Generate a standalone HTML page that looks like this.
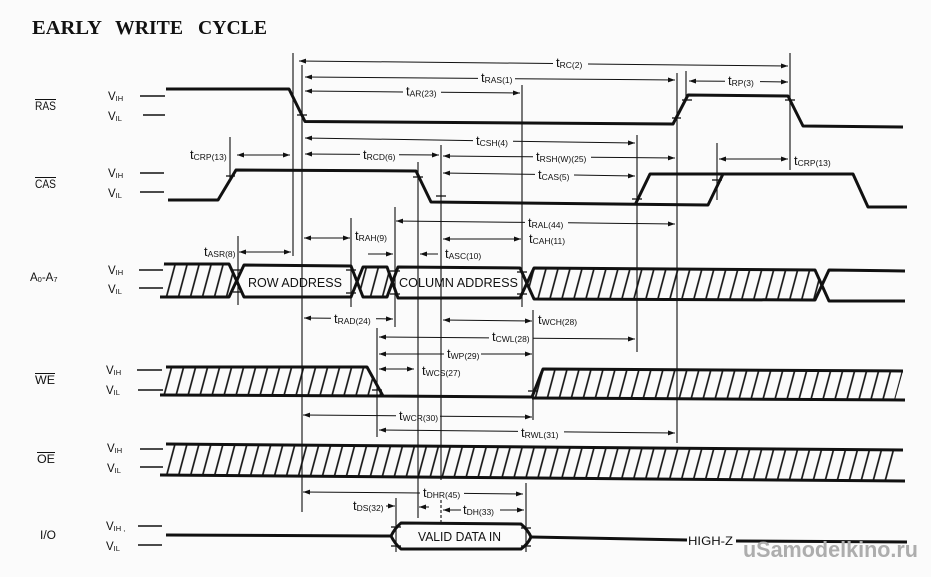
<!DOCTYPE html>
<html>
<head>
<meta charset="utf-8">
<style>
html,body{margin:0;padding:0;background:#fbfbfb;}
svg{display:block;}
text{font-family:"Liberation Sans",Arial,sans-serif;fill:#111;}
</style>
</head>
<body>
<svg width="931" height="577" viewBox="0 0 931 577" xmlns="http://www.w3.org/2000/svg">
<defs>
<pattern id="h" width="12" height="12" patternUnits="userSpaceOnUse" patternTransform="skewX(-15)">
<line x1="6" y1="-1" x2="6" y2="13" stroke="#111" stroke-width="1.7"/>
</pattern>
<marker id="a" viewBox="0 0 10 10" refX="10" refY="5" markerWidth="7" markerHeight="5" markerUnits="userSpaceOnUse" preserveAspectRatio="none" orient="auto-start-reverse">
<path d="M0,0 L10,5 L0,10 z" fill="#111"/>
</marker>
</defs>
<rect width="931" height="577" fill="#fbfbfb"/>

<!-- Title -->
<text x="32" y="34" style="font-family:'Liberation Serif',serif;font-weight:bold" font-size="20" textLength="70" lengthAdjust="spacingAndGlyphs">EARLY</text>
<text x="115" y="34" style="font-family:'Liberation Serif',serif;font-weight:bold" font-size="20" textLength="68" lengthAdjust="spacingAndGlyphs">WRITE</text>
<text x="198" y="34" style="font-family:'Liberation Serif',serif;font-weight:bold" font-size="20" textLength="69" lengthAdjust="spacingAndGlyphs">CYCLE</text>

<!-- Left signal names -->
<g font-size="11.5">
<text x="35" y="110" textLength="21" lengthAdjust="spacingAndGlyphs">RAS</text>
<text x="35" y="188" textLength="21" lengthAdjust="spacingAndGlyphs">CAS</text>
<text x="30" y="281">A<tspan font-size="7.5" dy="1">0</tspan><tspan dy="-1">-A</tspan><tspan font-size="7.5" dy="1">7</tspan></text>
<text x="35" y="384" textLength="20" lengthAdjust="spacingAndGlyphs">WE</text>
<text x="37" y="463" textLength="18" lengthAdjust="spacingAndGlyphs">OE</text>
<text x="40" y="539" textLength="16" lengthAdjust="spacingAndGlyphs">I/O</text>
</g>
<g stroke="#111" stroke-width="1">
<line x1="35" y1="99.5" x2="56" y2="99.5"/>
<line x1="35" y1="177.5" x2="56" y2="177.5"/>
<line x1="35" y1="373.5" x2="55" y2="373.5"/>
<line x1="37" y1="452.5" x2="55" y2="452.5"/>
</g>

<!-- VIH / VIL -->
<g font-size="11.5">
<text x="108" y="100">V<tspan font-size="7.5" dy="1">IH</tspan></text>
<text x="108" y="120">V<tspan font-size="7.5" dy="1">IL</tspan></text>
<text x="108" y="177">V<tspan font-size="7.5" dy="1">IH</tspan></text>
<text x="108" y="197">V<tspan font-size="7.5" dy="1">IL</tspan></text>
<text x="108" y="274">V<tspan font-size="7.5" dy="1">IH</tspan></text>
<text x="108" y="293">V<tspan font-size="7.5" dy="1">IL</tspan></text>
<text x="106" y="374">V<tspan font-size="7.5" dy="1">IH</tspan></text>
<text x="106" y="394">V<tspan font-size="7.5" dy="1">IL</tspan></text>
<text x="107" y="452">V<tspan font-size="7.5" dy="1">IH</tspan></text>
<text x="107" y="472">V<tspan font-size="7.5" dy="1">IL</tspan></text>
<text x="106" y="530">V<tspan font-size="7.5" dy="1">IH ,</tspan></text>
<text x="106" y="550">V<tspan font-size="7.5" dy="1">IL</tspan></text>
</g>
<g stroke="#111" stroke-width="1.5">
<line x1="140" y1="96" x2="165" y2="96"/>
<line x1="143" y1="115" x2="165" y2="115"/>
<line x1="140" y1="173" x2="164" y2="173"/>
<line x1="140" y1="192" x2="164" y2="192"/>
<line x1="139" y1="270" x2="163" y2="270"/>
<line x1="139" y1="288" x2="163" y2="288"/>
<line x1="137" y1="370" x2="162" y2="370"/>
<line x1="138" y1="390" x2="163" y2="390"/>
<line x1="140" y1="449" x2="163" y2="449"/>
<line x1="140" y1="467" x2="163" y2="467"/>
<line x1="138" y1="526" x2="162" y2="526"/>
<line x1="138" y1="545" x2="162" y2="545"/>
</g>

<!-- Vertical reference lines -->
<g stroke="#222" stroke-width="1.2">
<line x1="230" y1="137" x2="230" y2="178"/>
<line x1="238" y1="236" x2="238" y2="305"/>
<line x1="293" y1="53" x2="293" y2="256"/>
<line x1="302" y1="65" x2="302" y2="512"/>
<line x1="351" y1="218" x2="351" y2="307"/>
<line x1="395" y1="207" x2="395" y2="327"/>
<line x1="377" y1="328" x2="377" y2="437"/>
<line x1="418" y1="162" x2="418" y2="518"/>
<line x1="441" y1="145" x2="441" y2="480"/>
<line x1="441" y1="500" x2="441" y2="522" stroke-dasharray="3,2"/>
<line x1="396" y1="498" x2="396" y2="552"/>
<line x1="522" y1="85" x2="522" y2="307"/>
<line x1="526" y1="483" x2="526" y2="552"/>
<line x1="533" y1="310" x2="533" y2="420"/>
<line x1="637" y1="135" x2="637" y2="352"/>
<line x1="677" y1="73" x2="677" y2="443"/>
<line x1="686" y1="71" x2="686" y2="100"/>
<line x1="717" y1="143" x2="717" y2="200"/>
<line x1="790" y1="53" x2="790" y2="170"/>
</g>

<!-- Hatched fills -->
<g fill="url(#h)" stroke="none">
<polygon points="164,264 229,264 236,281 229,297 160,297"/>
<polygon points="357,282 363,267 387,267 392,282 387,297 363,297"/>
<polygon points="527,283 534,268 815,270 822,285 815,300 534,299"/>
<polygon points="166,367 367,367 383,396 160,395"/>
<polygon points="532,398 543,369 903,371 895,400"/>
<polygon points="166,444 903,450 895,481 160,475"/>
</g>

<!-- Signal lines -->
<g stroke="#111" stroke-width="3" fill="none" stroke-linejoin="round">
<!-- RAS -->
<polyline points="166,89 289,89 305,121.5 673,124 688,95 788,96 803,126 903,127"/>
<!-- CAS -->
<polyline points="168,200 218,200 236,170 416,171 431,202 708,205 723,174 853,174 868,207 907,207"/>
<polyline points="635,205 650,174 723,174"/>
<!-- Address -->
<polyline points="164,264 229,264 244,297 351,297 363,267 387,267 398,298 520,298 534,268 815,270 829,301 905,301"/>
<polyline points="160,297 229,297 244,265 351,266 363,297 387,297 398,267 520,268 534,299 815,300 829,270 905,271"/>
<!-- WE -->
<polyline points="166,367 367,367 383,396 532,397 543,369 903,371"/>
<line x1="160" y1="395" x2="383" y2="396"/>
<line x1="532" y1="398" x2="905" y2="400"/>
<!-- OE -->
<line x1="166" y1="444" x2="903" y2="450"/>
<line x1="160" y1="475" x2="905" y2="481"/>
<!-- I/O -->
<line x1="166" y1="535" x2="391" y2="536"/>
<path d="M391,536 Q395,528 401,523 L521,524 Q528,530 531,537 Q528,544 521,549 L401,549 Q395,544 391,536 Z"/>
<line x1="531" y1="537" x2="687" y2="540"/>
<line x1="736" y1="541" x2="907" y2="542"/>
</g>

<!-- Edge ticks -->
<g stroke="#111" stroke-width="1.3">
<line x1="297" y1="115" x2="307" y2="115"/>
<line x1="672" y1="118" x2="681" y2="118"/>
<line x1="682" y1="100" x2="692" y2="100"/>
<line x1="785" y1="100" x2="795" y2="100"/>
<line x1="226" y1="176" x2="235" y2="176"/>
<line x1="413" y1="177" x2="423" y2="177"/>
<line x1="436" y1="196" x2="446" y2="196"/>
<line x1="632" y1="199" x2="642" y2="199"/>
<line x1="712" y1="180" x2="722" y2="180"/>
<line x1="233" y1="270" x2="243" y2="270"/>
<line x1="233" y1="292" x2="243" y2="292"/>
<line x1="346" y1="270" x2="356" y2="270"/>
<line x1="346" y1="293" x2="356" y2="293"/>
<line x1="390" y1="271" x2="400" y2="271"/>
<line x1="390" y1="294" x2="400" y2="294"/>
<line x1="517" y1="272" x2="527" y2="272"/>
<line x1="517" y1="294" x2="527" y2="294"/>
<line x1="372" y1="390" x2="382" y2="390"/>
<line x1="528" y1="391" x2="538" y2="391"/>
<line x1="391" y1="527" x2="401" y2="527"/>
<line x1="391" y1="546" x2="401" y2="546"/>
<line x1="521" y1="528" x2="531" y2="528"/>
<line x1="521" y1="546" x2="531" y2="546"/>
</g>

<!-- Dimension arrows -->
<g stroke="#111" stroke-width="1" fill="none">
<!-- tRC -->
<line x1="299" y1="61" x2="553" y2="63.5" marker-start="url(#a)"/>
<line x1="588" y1="64" x2="788" y2="66" marker-end="url(#a)"/>
<!-- tRAS -->
<line x1="305" y1="77" x2="478" y2="78.4" marker-start="url(#a)"/>
<line x1="515" y1="78.7" x2="675" y2="80" marker-end="url(#a)"/>
<!-- tAR -->
<line x1="305" y1="91" x2="403" y2="92" marker-start="url(#a)"/>
<line x1="441" y1="92.2" x2="520" y2="93" marker-end="url(#a)"/>
<!-- tRP -->
<line x1="689" y1="81" x2="725" y2="81.3" marker-start="url(#a)"/>
<line x1="760" y1="81.6" x2="788" y2="82" marker-end="url(#a)"/>
<!-- tCRP left -->
<line x1="237" y1="155" x2="290" y2="155" marker-start="url(#a)" marker-end="url(#a)"/>
<!-- tCSH -->
<line x1="305" y1="138" x2="473" y2="140.6" marker-start="url(#a)"/>
<line x1="513" y1="141.2" x2="635" y2="143" marker-end="url(#a)"/>
<!-- tRCD -->
<line x1="305" y1="154" x2="360" y2="154.4" marker-start="url(#a)"/>
<line x1="399" y1="154.7" x2="439" y2="155" marker-end="url(#a)"/>
<!-- tRSH(W) -->
<line x1="443" y1="156" x2="533" y2="156.8" marker-start="url(#a)"/>
<line x1="591" y1="157.2" x2="675" y2="158" marker-end="url(#a)"/>
<!-- tCAS -->
<line x1="443" y1="173" x2="535" y2="174.4" marker-start="url(#a)"/>
<line x1="574" y1="175" x2="635" y2="176" marker-end="url(#a)"/>
<!-- tCRP right -->
<line x1="719" y1="159" x2="788" y2="159" marker-start="url(#a)" marker-end="url(#a)"/>
<!-- tRAL -->
<line x1="396" y1="221" x2="525" y2="222.4" marker-start="url(#a)"/>
<line x1="568" y1="222.8" x2="675" y2="224" marker-end="url(#a)"/>
<!-- tCAH -->
<line x1="443" y1="239" x2="521" y2="239" marker-start="url(#a)" marker-end="url(#a)"/>
<!-- tRAH -->
<line x1="304" y1="238" x2="350" y2="238" marker-start="url(#a)" marker-end="url(#a)"/>
<line x1="368" y1="254" x2="393" y2="254" marker-end="url(#a)"/>
<!-- tASC -->
<line x1="438" y1="254" x2="420" y2="254" marker-end="url(#a)"/>
<!-- tASR -->
<line x1="239" y1="252" x2="291" y2="252" marker-start="url(#a)" marker-end="url(#a)"/>
<!-- tRAD -->
<line x1="304" y1="318" x2="331" y2="318.3" marker-start="url(#a)"/>
<line x1="376" y1="318.7" x2="393" y2="319" marker-end="url(#a)"/>
<!-- tWCH -->
<line x1="443" y1="320" x2="532" y2="321" marker-start="url(#a)" marker-end="url(#a)"/>
<!-- tCWL -->
<line x1="379" y1="337" x2="489" y2="337.9" marker-start="url(#a)"/>
<line x1="533" y1="338.2" x2="635" y2="339" marker-end="url(#a)"/>
<!-- tWP -->
<line x1="379" y1="354" x2="444" y2="354" marker-start="url(#a)"/>
<line x1="481" y1="354" x2="532" y2="354" marker-end="url(#a)"/>
<!-- tWCS -->
<line x1="379" y1="369" x2="414" y2="369" marker-start="url(#a)" marker-end="url(#a)"/>
<!-- tWCR -->
<line x1="303" y1="415" x2="396" y2="415.8" marker-start="url(#a)"/>
<line x1="440" y1="416.2" x2="532" y2="417" marker-end="url(#a)"/>
<!-- tRWL -->
<line x1="379" y1="430" x2="518" y2="431.4" marker-start="url(#a)"/>
<line x1="564" y1="431.9" x2="675" y2="433" marker-end="url(#a)"/>
<!-- tDHR -->
<line x1="303" y1="492" x2="420" y2="493" marker-start="url(#a)"/>
<line x1="464" y1="493.4" x2="523" y2="494" marker-end="url(#a)"/>
<!-- tDS -->
<line x1="386" y1="506" x2="395" y2="506" marker-end="url(#a)"/>
<line x1="429" y1="507" x2="419" y2="507" marker-end="url(#a)"/>
<!-- tDH -->
<line x1="443" y1="510" x2="461" y2="510" marker-start="url(#a)"/>
<line x1="500" y1="510" x2="524" y2="510" marker-end="url(#a)"/>
</g>

<!-- Timing labels -->
<g font-size="13">
<text x="556" y="67">t<tspan font-size="8.5" dy="1">RC(2)</tspan></text>
<text x="481" y="82">t<tspan font-size="8.5" dy="1">RAS(1)</tspan></text>
<text x="406" y="95.5">t<tspan font-size="8.5" dy="1">AR(23)</tspan></text>
<text x="728" y="85">t<tspan font-size="8.5" dy="1">RP(3)</tspan></text>
<text x="190" y="159">t<tspan font-size="8.5" dy="1">CRP(13)</tspan></text>
<text x="476" y="145">t<tspan font-size="8.5" dy="1">CSH(4)</tspan></text>
<text x="363" y="159">t<tspan font-size="8.5" dy="1">RCD(6)</tspan></text>
<text x="536" y="161">t<tspan font-size="8.5" dy="1">RSH(W)(25)</tspan></text>
<text x="538" y="179">t<tspan font-size="8.5" dy="1">CAS(5)</tspan></text>
<text x="794" y="165">t<tspan font-size="8.5" dy="1">CRP(13)</tspan></text>
<text x="528" y="227">t<tspan font-size="8.5" dy="1">RAL(44)</tspan></text>
<text x="529" y="243">t<tspan font-size="8.5" dy="1">CAH(11)</tspan></text>
<text x="355" y="240">t<tspan font-size="8.5" dy="1">RAH(9)</tspan></text>
<text x="445" y="258">t<tspan font-size="8.5" dy="1">ASC(10)</tspan></text>
<text x="204" y="256">t<tspan font-size="8.5" dy="1">ASR(8)</tspan></text>
<text x="334" y="323">t<tspan font-size="8.5" dy="1">RAD(24)</tspan></text>
<text x="538" y="324">t<tspan font-size="8.5" dy="1">WCH(28)</tspan></text>
<text x="492" y="341">t<tspan font-size="8.5" dy="1">CWL(28)</tspan></text>
<text x="447" y="358">t<tspan font-size="8.5" dy="1">WP(29)</tspan></text>
<text x="422" y="375">t<tspan font-size="8.5" dy="1">WCS(27)</tspan></text>
<text x="399" y="420">t<tspan font-size="8.5" dy="1">WCR(30)</tspan></text>
<text x="521" y="437">t<tspan font-size="8.5" dy="1">RWL(31)</tspan></text>
<text x="423" y="497">t<tspan font-size="8.5" dy="1">DHR(45)</tspan></text>
<text x="353" y="510">t<tspan font-size="8.5" dy="1">DS(32)</tspan></text>
<text x="463" y="514">t<tspan font-size="8.5" dy="1">DH(33)</tspan></text>
</g>

<!-- In-signal text -->
<text x="248" y="287" font-size="12.5" textLength="94" lengthAdjust="spacingAndGlyphs">ROW ADDRESS</text>
<text x="399" y="287" font-size="12.5" textLength="119" lengthAdjust="spacingAndGlyphs">COLUMN ADDRESS</text>
<text x="418" y="541" font-size="12.5" textLength="83" lengthAdjust="spacingAndGlyphs">VALID DATA IN</text>
<text x="688" y="545" font-size="12" textLength="45" lengthAdjust="spacingAndGlyphs">HIGH-Z</text>

<!-- Watermark -->
<text x="743" y="557" font-size="22" font-weight="bold" fill="#aaaaaa" style="fill:#adadad" textLength="175" lengthAdjust="spacingAndGlyphs">uSamodelkino.ru</text>
</svg>
</body>
</html>
